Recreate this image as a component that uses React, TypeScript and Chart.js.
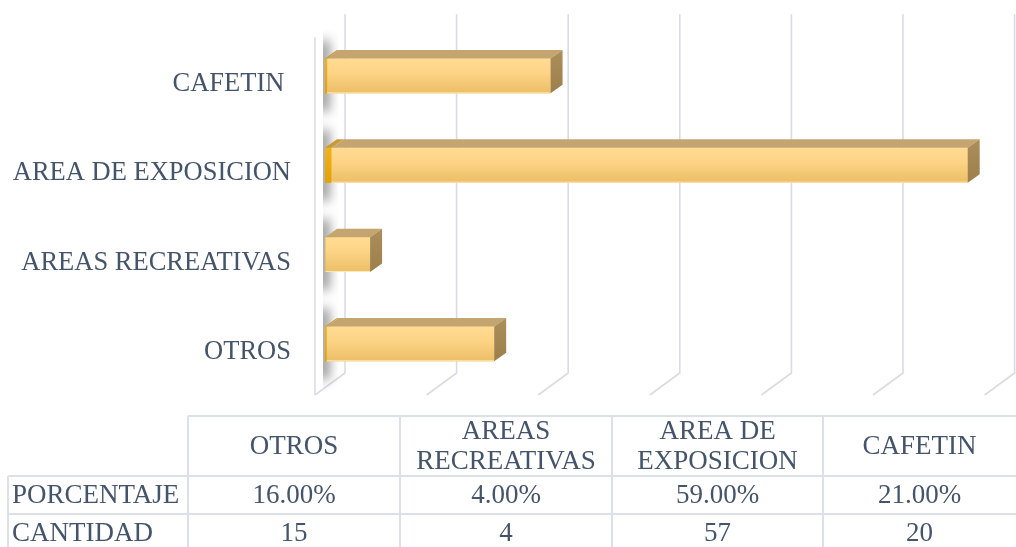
import React, { useEffect, useRef } from 'react';
import { Chart, registerables } from 'chart.js';

Chart.register(...registerables);

const categories = ['OTROS', 'AREAS RECREATIVAS', 'AREA DE EXPOSICION', 'CAFETIN '];
const tableHeaders = [['OTROS'], ['AREAS', 'RECREATIVAS'], ['AREA DE', 'EXPOSICION'], ['CAFETIN']];
const seriesNames = ['PORCENTAJE', 'CANTIDAD'];
const porcentaje = [16, 4, 59, 21];
const cantidad = [15, 4, 57, 20];
const xTicks = [0, 10, 20, 30, 40, 50, 60];

const FONT = "'Liberation Serif', 'Times New Roman', serif";
const TEXT = '#44546A';
const GRID = '#DADBE5';

const gridPlugin = {
  id: 'grid3d',
  beforeDatasetsDraw(chart: any) {
    const { ctx, chartArea, scales } = chart;
    const xs = scales.x;
    ctx.save();
    ctx.strokeStyle = GRID;
    ctx.lineWidth = 1.6;
    const topBack = chartArea.top - 17;
    const bottomBack = chartArea.bottom - 15.5;
    const bottomFront = chartArea.bottom + 6.5;
    for (const v of xTicks) {
      const px = xs.getPixelForValue(v);
      ctx.beginPath();
      ctx.moveTo(px + 20, topBack);
      ctx.lineTo(px + 20, bottomBack);
      ctx.lineTo(px - 10, bottomFront);
      ctx.stroke();
    }
    const x0 = xs.getPixelForValue(0);
    ctx.beginPath();
    ctx.moveTo(x0 - 10, chartArea.top + 6);
    ctx.lineTo(x0 - 10, bottomFront);
    ctx.stroke();

    // soft shadows on the side wall
    const meta = chart.getDatasetMeta(1);
    meta.data.forEach((el: any) => {
      const { y, height } = el.getProps(['y', 'height'], true);
      const t = y - height / 2;
      const b = y + height / 2;
      ctx.save();
      ctx.beginPath();
      ctx.rect(x0 - 2, t - 30, 15, height + 60);
      ctx.clip();
      ctx.filter = 'blur(6px)';
      ctx.fillStyle = 'rgba(60,60,60,0.6)';
      ctx.fillRect(x0 - 7, t - 18, 11, height + 36);
      ctx.restore();
    });
    ctx.restore();
  },
};

const bar3dPlugin = {
  id: 'bar3d',
  afterDatasetsDraw(chart: any) {
    const { ctx } = chart;
    const dx = 12;
    const dy = 8.5;
    ctx.save();
    [0, 1].forEach((di) => {
      const meta = chart.getDatasetMeta(di);
      meta.data.forEach((el: any) => {
        const { x, y, base, height } = el.getProps(['x', 'y', 'base', 'height'], true);
        const l = Math.min(base, x);
        const r = Math.max(base, x);
        const t = y - height / 2;
        const b = y + height / 2;
        const g = ctx.createLinearGradient(0, t, 0, b);
        if (di === 0) {
          g.addColorStop(0, '#F2B21A');
          g.addColorStop(1, '#E3A200');
        } else {
          g.addColorStop(0, '#FFDB92');
          g.addColorStop(0.4, '#FDD486');
          g.addColorStop(1, '#EBBE66');
        }
        ctx.fillStyle = g;
        ctx.fillRect(l, t, r - l, b - t);
        if (di === 1) {
          ctx.fillStyle = 'rgba(255,236,190,0.9)';
          ctx.fillRect(l, b - 1, r - l, 1);
        }
        ctx.beginPath();
        ctx.moveTo(l, t);
        ctx.lineTo(l + dx, t - dy);
        ctx.lineTo(r + dx, t - dy);
        ctx.lineTo(r, t);
        ctx.closePath();
        ctx.fillStyle = di === 0 ? '#C99A2E' : '#C4A46F';
        ctx.fill();
        if (di === 1) {
          const sg = ctx.createLinearGradient(0, t - dy, 0, b);
          sg.addColorStop(0, '#AB8E59');
          sg.addColorStop(1, '#9C7F4B');
          ctx.beginPath();
          ctx.moveTo(r, t);
          ctx.lineTo(r + dx, t - dy);
          ctx.lineTo(r + dx, b - dy);
          ctx.lineTo(r, b);
          ctx.closePath();
          ctx.fillStyle = sg;
          ctx.fill();
        }
      });
    });
    ctx.restore();
  },
};

const tablePlugin = {
  id: 'dataTable',
  afterDraw(chart: any) {
    const { ctx } = chart;
    const colEdges = [8, 188, 400, 612, 823, 1016];
    const rowEdges = [416, 476, 514, 547];
    ctx.save();
    ctx.strokeStyle = '#DCE0E8';
    ctx.lineWidth = 2;
    ctx.beginPath();
    ctx.moveTo(colEdges[1], rowEdges[0]);
    ctx.lineTo(colEdges[5], rowEdges[0]);
    ctx.moveTo(colEdges[0], rowEdges[1]);
    ctx.lineTo(colEdges[5], rowEdges[1]);
    ctx.moveTo(colEdges[0], rowEdges[2]);
    ctx.lineTo(colEdges[5], rowEdges[2]);
    ctx.moveTo(colEdges[0], rowEdges[1]);
    ctx.lineTo(colEdges[0], rowEdges[3]);
    for (let i = 1; i <= 4; i++) {
      ctx.moveTo(colEdges[i], rowEdges[0]);
      ctx.lineTo(colEdges[i], rowEdges[3]);
    }
    ctx.stroke();

    ctx.fillStyle = TEXT;
    ctx.font = `27px ${FONT}`;
    ctx.textBaseline = 'middle';
    ctx.textAlign = 'center';
    const headerMid = 447;
    tableHeaders.forEach((lines, i) => {
      const cx = (colEdges[i + 1] + colEdges[i + 2]) / 2;
      if (lines.length === 1) {
        ctx.fillText(lines[0], cx, headerMid);
      } else {
        ctx.fillText(lines[0], cx, headerMid - 15);
        ctx.fillText(lines[1], cx, headerMid + 15);
      }
    });
    const rows = [
      porcentaje.map((v) => v.toFixed(2) + '%'),
      cantidad.map((v) => String(v)),
    ];
    const rowMids = [496, 534];
    rows.forEach((vals, r) => {
      ctx.textAlign = 'left';
      ctx.fillText(seriesNames[r], colEdges[0] + 4, rowMids[r]);
      ctx.textAlign = 'center';
      vals.forEach((v, i) => {
        const cx = (colEdges[i + 1] + colEdges[i + 2]) / 2;
        ctx.fillText(v, cx, rowMids[r]);
      });
    });
    ctx.restore();
  },
};

export default function App() {
  const ref = useRef<HTMLCanvasElement>(null);
  useEffect(() => {
    if (!ref.current) return;
    const chart = new Chart(ref.current, {
      type: 'bar',
      data: {
        labels: categories,
        datasets: [
          {
            label: seriesNames[0],
            data: porcentaje.map((v) => v / 100),
            backgroundColor: '#EDA800',
            barPercentage: 0.39,
            categoryPercentage: 1,
            stack: 's',
          },
          {
            label: seriesNames[1],
            data: cantidad,
            backgroundColor: '#FDD486',
            barPercentage: 0.39,
            categoryPercentage: 1,
            stack: 's',
          },
        ],
      },
      options: {
        indexAxis: 'y',
        animation: false,
        responsive: false,
        events: [],
        layout: { padding: { left: 0, right: 21.4, top: 31.3, bottom: 158.5 } },
        plugins: { legend: { display: false }, tooltip: { enabled: false } },
        scales: {
          x: { display: false, stacked: true, min: 0, max: 60 },
          y: {
            stacked: true,
            reverse: true,
            grid: { display: false, drawTicks: false },
            border: { display: false },
            afterFit: (s: any) => {
              s.width = 325;
              s.paddingTop = 0;
              s.paddingBottom = 0;
            },
            ticks: {
              padding: 34,
              color: TEXT,
              font: { family: FONT, size: 26.5, lineHeight: '16px' as any },
              callback: (_v: any, i: number) => ['', categories[i]],
            },
          },
        },
      },
      plugins: [gridPlugin, bar3dPlugin, tablePlugin],
    });
    return () => chart.destroy();
  }, []);
  return (
    <div style={{ position: 'fixed', left: 0, top: 0, width: 1016, height: 547, background: '#fff' }}>
      <canvas ref={ref} width={1016} height={547} />
    </div>
  );
}
